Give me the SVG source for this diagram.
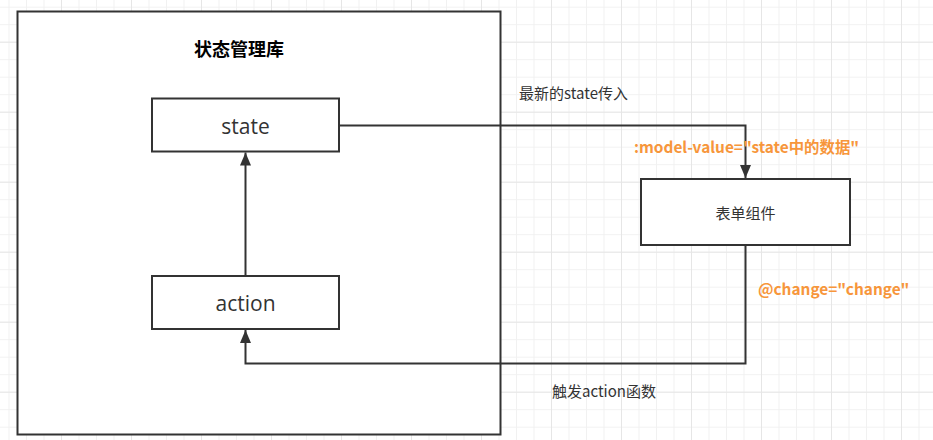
<svg xmlns="http://www.w3.org/2000/svg" width="933" height="440" viewBox="0 0 933 440">
  <defs>
    <pattern id="minor" patternUnits="userSpaceOnUse" x="8.5" y="6.7" width="17.5" height="17.5">
      <path d="M0.5,0 V17.5 M0,0.5 H17.5" stroke="#f1f1f1" stroke-width="1" fill="none"/>
    </pattern>
    <pattern id="major" patternUnits="userSpaceOnUse" x="61" y="41.7" width="70" height="70">
      <path d="M0.5,0 V70 M0,0.5 H70" stroke="#e6e6e6" stroke-width="1" fill="none"/>
    </pattern>
    <marker id="arrow" markerUnits="userSpaceOnUse" markerWidth="14" markerHeight="11" refX="13" refY="5.5" orient="auto">
      <path d="M0,0 L13,5.5 L0,11 z" fill="#333333"/>
    </marker>
    <style>
      .box { fill: #ffffff; stroke: #333333; stroke-width: 2; }
      .conn { fill: none; stroke: #333333; stroke-width: 2; marker-end: url(#arrow); }
      .cjk { font-family: "Noto Sans CJK SC", "Noto Sans", sans-serif; fill: #333333; }
      .lbl { font-family: "Open Sans", "Noto Sans CJK SC", sans-serif; font-size: 21px; fill: #333333; text-anchor: middle; }
      .orange { font-family: "Noto Sans CJK SC", "Noto Sans", sans-serif; font-size: 15.4px; font-weight: bold; fill: #f7963b; }
      .note { font-family: "Noto Sans CJK SC", "Noto Sans", sans-serif; font-size: 15px; fill: #333333; }
    </style>
  </defs>
  <rect width="933" height="440" fill="#ffffff"/>
  <rect width="933" height="440" fill="url(#minor)"/>
  <rect width="933" height="440" fill="url(#major)"/>

  <g id="store">
    <rect class="box" x="17.5" y="11.5" width="483" height="423"/>
    <text class="cjk" x="239" y="55.5" font-size="18" font-weight="bold" text-anchor="middle" style="fill:#000000">状态管理库</text>
  </g>

  <g id="state">
    <rect class="box" x="152" y="98.5" width="187" height="53"/>
    <text class="lbl" x="245.5" y="133.5">state</text>
  </g>

  <g id="action">
    <rect class="box" x="152" y="276" width="187" height="53"/>
    <text class="lbl" x="245.5" y="310.5">action</text>
  </g>

  <g id="form">
    <rect class="box" x="641" y="179" width="209" height="66"/>
    <text class="cjk" x="745.5" y="218.5" font-size="15" text-anchor="middle">表单组件</text>
  </g>

  <g id="connectors">
    <path class="conn" d="M339,125.5 H745.5 V178"/>
    <path class="conn" d="M245.5,276 V152.5"/>
    <path class="conn" d="M745.5,245 V363.5 H245.5 V330"/>
  </g>

  <g id="labels">
    <text class="note" x="519" y="99">最新的state传入</text>
    <text class="orange" x="634" y="153">:model-value="state中的数据"</text>
    <text class="orange" x="758" y="295">@change="change"</text>
    <text class="note" x="552" y="396.5">触发action函数</text>
  </g>
</svg>
